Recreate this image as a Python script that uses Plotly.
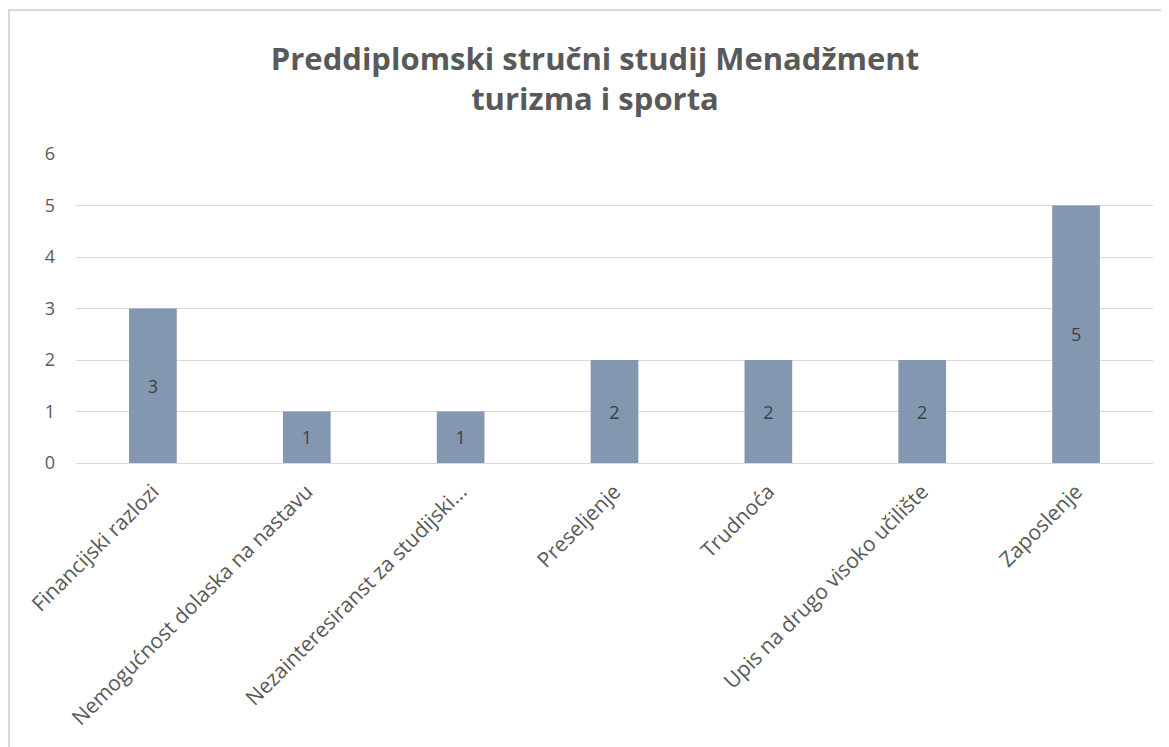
import plotly.graph_objects as go

categories = [
    "Financijski razlozi",
    "Nemogućnost dolaska na nastavu",
    "Nezainteresiranst za studijski...",
    "Preseljenje",
    "Trudnoća",
    "Upis na drugo visoko učilište",
    "Zaposlenje",
]
values = [3, 1, 1, 2, 2, 2, 5]
title_text = "Preddiplomski stručni studij Menadžment<br>turizma i sporta"
y_ticks = [0, 1, 2, 3, 4, 5, 6]

W, H = 1161, 739
L, R, T, B = 68, 16, 146, 284
pw = W - L - R
ph = H - T - B

fig = go.Figure(
    go.Bar(
        x=categories,
        y=values,
        marker=dict(color="#8497B0", line=dict(width=0)),
        width=0.31,
        text=[str(v) for v in values],
        textposition="inside",
        insidetextanchor="middle",
        textfont=dict(size=18, color="#404040", family="Open Sans"),
        textangle=0,
    )
)

fig.update_layout(
    width=W,
    height=H,
    margin=dict(l=L, r=R, t=T, b=B, autoexpand=False),
    paper_bgcolor="white",
    plot_bgcolor="white",
    font=dict(family="Open Sans", color="#595959"),
    showlegend=False,
    title=dict(
        text=title_text,
        x=587 / W,
        xanchor="center",
        xref="container",
        y=1 - 62 / H,
        yanchor="middle",
        yref="container",
        font=dict(size=31, color="#595959", family="Open Sans", weight="bold"),
    ),
    uniformtext=dict(minsize=8, mode="show"),
)

fig.update_xaxes(
    tickangle=-45,
    tickfont=dict(size=21, color="#595959"),
    showgrid=False,
    showline=True,
    linecolor="#d9d9d9",
    linewidth=1,
    ticks="",
    ticklabelstandoff=7,
)
fig.update_yaxes(
    range=[0, 6],
    tickvals=y_ticks,
    tickfont=dict(size=18, color="#595959"),
    showgrid=True,
    gridcolor="#d9d9d9",
    gridwidth=1,
    zeroline=False,
    showline=False,
    ticks="",
    ticklabelstandoff=20,
)

# chart area border (left/top visible)
fig.add_shape(
    type="rect",
    xref="paper",
    yref="paper",
    x0=(1 - L) / pw,
    x1=(1185 - L) / pw,
    y0=-(770 - (H - B)) / ph,
    y1=((H - B) - 2) / ph,
    line=dict(color="#d9d9d9", width=2),
    fillcolor="rgba(0,0,0,0)",
    layer="below",
)

fig.write_html("out.html")
